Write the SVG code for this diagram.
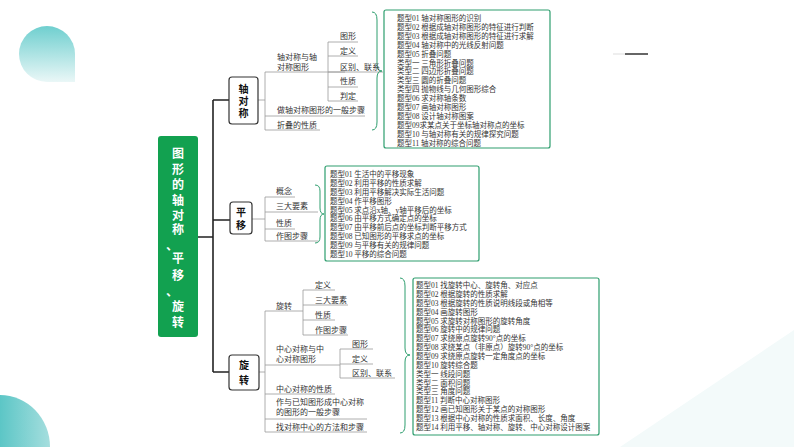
<svg xmlns="http://www.w3.org/2000/svg" width="794" height="447" viewBox="0 0 794 447">
<style>
.t{font-family:"Liberation Serif","Noto Sans CJK SC",serif;font-size:8px;fill:#333}
.l{font-family:"Liberation Serif","Noto Sans CJK SC",serif;font-size:7.5px;fill:#333}
.b{font-family:"Noto Sans CJK SC",sans-serif;font-size:10px;font-weight:bold;fill:#111;text-anchor:middle}
.r{font-family:"Noto Sans CJK SC",sans-serif;font-size:12px;font-weight:bold;fill:#fff;text-anchor:middle}
.k{stroke:#222;stroke-width:1.6;fill:none}
.g{stroke:#999;stroke-width:0.8;fill:none}
.box{fill:#fff;stroke:#333;stroke-width:1.2}
.lst{fill:#fff;stroke:#2e9e6e;stroke-width:1.2}
.br{stroke:#2e9e6e;stroke-width:1;fill:none}
</style>
<defs>
<linearGradient id="gd" x1="0" y1="0" x2="0" y2="1"><stop offset="0" stop-color="#6fcfcf"/><stop offset="1" stop-color="#eaf7f7"/></linearGradient>
<linearGradient id="gd2" x1="0" y1="0" x2="1" y2="0"><stop offset="0" stop-color="#5cc6c6"/><stop offset="1" stop-color="#a5dede"/></linearGradient>
</defs>
<rect width="794" height="447" fill="#fff"/>
<path d="M47 26 A28 28 0 0 1 75 54 L75 82 L47 82 A28 28 0 0 1 47 26 Z" fill="url(#gd)"/>
<path d="M0 395 A50 52 0 0 1 50 447 L0 447 Z" fill="url(#gd2)"/>
<path d="M794 330 L794 447 L620 447 Z" fill="#f3fafa"/>
<line x1="613" y1="54" x2="625" y2="54" stroke="#ddd" stroke-width="1"/>
<line x1="625" y1="54" x2="648" y2="54" stroke="#666" stroke-width="2"/>

<g id="connectors">
<path class="k" d="M198 237 H213 M213 100 V372 M213 100 H229 M213 220 H230 M213 372 H229"/>
<path class="g" d="M258 100 H265 M265 72 V130 M265 72 H345 M328 42 V101 M328 42 H358 M328 56 H358 M328 72 H383 M328 87 H358 M328 101 H358 M265 116 H365 M265 130 H320"/>
<path class="g" d="M252 219 H265 M265 197 V241 M265 197 H295 M265 212 H318 M265 229 H295 M265 241 H318"/>
<path class="g" d="M259 372 H265 M265 311 V432 M265 311 H303 M303 290 V335 M303 290 H335 M303 305 H348 M303 320 H335 M303 335 H348 M265 365 H340 M340 349 V378 M340 349 H373 M340 364 H373 M340 378 H395 M265 394 H335 M265 419 H367 M265 432 H367"/>
<path class="br" d="M372 12 Q377 12 377 20 V64 Q377 71 382 71 Q377 71 377 78 V122 Q377 130 372 130"/>
<path class="br" d="M315 185 Q320 185 320 191 V208 Q320 214 324 214 Q320 214 320 220 V237 Q320 243 315 243"/>
<path class="br" d="M400 278 Q405 278 405 286 V348 Q405 355 410 355 Q405 355 405 362 V425 Q405 433 400 433"/>
</g>

<g id="root"><rect x="158" y="136" width="40" height="201" rx="3" fill="#12a150"/>
<text class="r" x="178" y="158">图</text><text class="r" x="178" y="174">形</text><text class="r" x="178" y="189">的</text><text class="r" x="178" y="205">轴</text><text class="r" x="178" y="220">对</text><text class="r" x="178" y="234">称</text><text class="r" x="172" y="250">、</text><text class="r" x="178" y="263">平</text><text class="r" x="178" y="280">移</text><text class="r" x="172" y="296">、</text><text class="r" x="178" y="311">旋</text><text class="r" x="178" y="327">转</text></g>

<g id="zhou"><rect class="box" x="229" y="77" width="29" height="47" rx="3"/>
<text class="b" x="243.5" y="93">轴</text><text class="b" x="243.5" y="105">对</text><text class="b" x="243.5" y="117">称</text>
<text class="t" x="277" y="60">轴对称与轴</text><text class="t" x="277" y="70">对称图形</text>
<text class="t" x="340" y="39">图形</text><text class="t" x="340" y="54">定义</text><text class="t" x="340" y="70">区别、联系</text><text class="t" x="340" y="84">性质</text><text class="t" x="340" y="99">判定</text>
<text class="t" x="277" y="113">做轴对称图形的一般步骤</text><text class="t" x="277" y="128">折叠的性质</text></g>

<g id="zhou-list"><rect class="lst" x="384" y="10" width="166" height="138" rx="2"/>
<g class="l"><text x="397" y="21">题型01 轴对称图形的识别</text><text x="397" y="30">题型02 根据成轴对称图形的特征进行判断</text><text x="397" y="39">题型03 根据成轴对称图形的特征进行求解</text><text x="397" y="48">题型04 轴对称中的光线反射问题</text><text x="397" y="57">题型05 折叠问题</text><text x="397" y="66">类型一 三角形折叠问题</text><text x="397" y="74">类型二 四边形折叠问题</text><text x="397" y="83">类型三 圆的折叠问题</text><text x="397" y="92">类型四 抛物线与几何图形综合</text><text x="397" y="101">题型06 求对称轴条数</text><text x="397" y="110">题型07 画轴对称图形</text><text x="397" y="119">题型08 设计轴对称图案</text><text x="397" y="128">题型09求某点关于坐标轴对称点的坐标</text><text x="397" y="137">题型10 与轴对称有关的规律探究问题</text><text x="397" y="146">题型11 轴对称的综合问题</text></g></g>

<g id="ping"><rect class="box" x="230" y="202" width="22" height="32" rx="3"/>
<text class="b" x="241" y="216">平</text><text class="b" x="241" y="229">移</text>
<text class="t" x="276" y="194">概念</text><text class="t" x="276" y="209">三大要素</text><text class="t" x="276" y="226">性质</text><text class="t" x="276" y="239">作图步骤</text></g>

<g id="ping-list"><rect class="lst" x="325" y="166" width="154" height="95" rx="2"/>
<g class="l"><text x="330" y="177">题型01 生活中的平移现象</text><text x="330" y="186">题型02 利用平移的性质求解</text><text x="330" y="195">题型03 利用平移解决实际生活问题</text><text x="330" y="204">题型04 作平移图形</text><text x="330" y="213">题型05 求点沿x轴、y轴平移后的坐标</text><text x="330" y="221">题型06 由平移方式确定点的坐标</text><text x="330" y="230">题型07 由平移前后点的坐标判断平移方式</text><text x="330" y="239">题型08 已知图形的平移求点的坐标</text><text x="330" y="248">题型09 与平移有关的规律问题</text><text x="330" y="257">题型10 平移的综合问题</text></g></g>

<g id="xuan"><rect class="box" x="229" y="355" width="30" height="35" rx="3"/>
<text class="b" x="244" y="369">旋</text><text class="b" x="244" y="384">转</text>
<text class="t" x="276" y="309">旋转</text>
<text class="t" x="315" y="288">定义</text><text class="t" x="315" y="303">三大要素</text><text class="t" x="315" y="318">性质</text><text class="t" x="315" y="333">作图步骤</text>
<text class="t" x="276" y="352">中心对称与中</text><text class="t" x="276" y="362">心对称图形</text>
<text class="t" x="352" y="347">图形</text><text class="t" x="352" y="362">定义</text><text class="t" x="352" y="376">区别、联系</text>
<text class="t" x="276" y="392">中心对称的性质</text>
<text class="t" x="276" y="405">作与已知图形成中心对称</text><text class="t" x="276" y="415">的图形的一般步骤</text>
<text class="t" x="276" y="430">找对称中心的方法和步骤</text></g>

<g id="xuan-list"><rect class="lst" x="413" y="278" width="186" height="157" rx="2"/>
<g class="l"><text x="416" y="288">题型01 找旋转中心、旋转角、对应点</text><text x="416" y="297">题型02 根据旋转的性质求解</text><text x="416" y="306">题型03 根据旋转的性质说明线段或角相等</text><text x="416" y="315">题型04 画旋转图形</text><text x="416" y="324">题型05 求旋转对称图形的旋转角度</text><text x="416" y="332">题型06 旋转中的规律问题</text><text x="416" y="341">题型07 求绕原点旋转90°点的坐标</text><text x="416" y="350">题型08 求绕某点（非原点）旋转90°点的坐标</text><text x="416" y="359">题型09 求绕原点旋转一定角度点的坐标</text><text x="416" y="368">题型10 旋转综合题</text><text x="416" y="377">类型一 线段问题</text><text x="416" y="386">类型二 面积问题</text><text x="416" y="394">类型三 角度问题</text><text x="416" y="403">题型11 判断中心对称图形</text><text x="416" y="412">题型12 画已知图形关于某点的对称图形</text><text x="416" y="421">题型13 根据中心对称的性质求面积、长度、角度</text><text x="416" y="430">题型14 利用平移、轴对称、旋转、中心对称设计图案</text></g></g>
</svg>
